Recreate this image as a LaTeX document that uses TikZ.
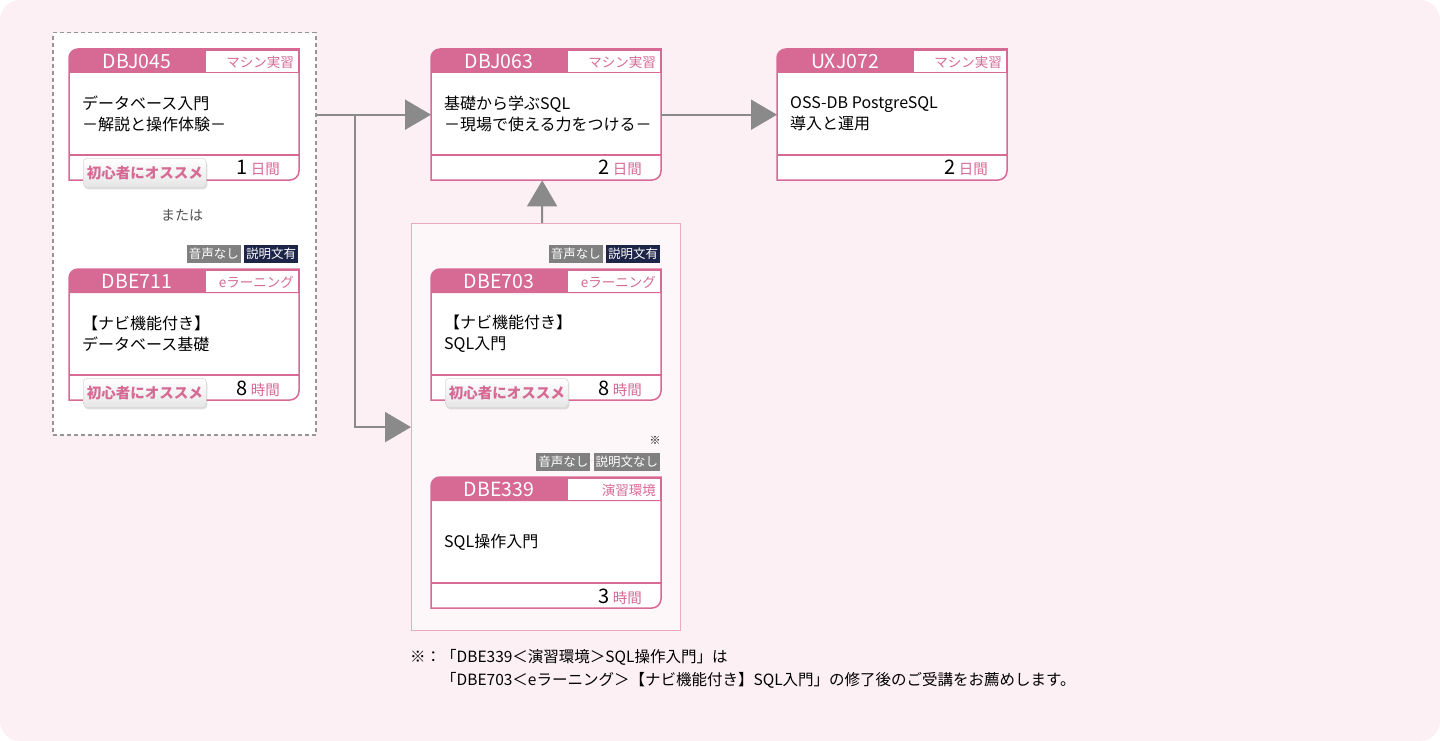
\documentclass[tikz,border=0pt]{standalone}
\usepackage{fontspec}
\setmainfont{Noto Sans CJK JP}
\usepackage{xcolor}
\definecolor{cardpink}{RGB}{214,106,148}
\definecolor{bgpink}{RGB}{252,240,244}
\definecolor{groupfill}{RGB}{253,247,250}
\definecolor{grouppink}{RGB}{234,168,194}
\definecolor{arrowgray}{RGB}{138,138,138}
\definecolor{dashgray}{RGB}{150,150,150}
\definecolor{badgegray}{RGB}{128,128,128}
\definecolor{badgenavy}{RGB}{28,36,72}
\definecolor{textgray}{RGB}{80,80,80}
\usetikzlibrary{arrows.meta, positioning, calc, shadows}

\tikzset{
  cardframe/.style={anchor=north west, minimum width=230pt, minimum height=131pt, inner sep=0pt},
  cardline/.style={draw=cardpink, line width=1.5pt},
  codetext/.style={anchor=base, text=white, inner sep=0pt, font=\fontsize{19.5}{19.5}\selectfont},
  typetext/.style={anchor=base east, text=cardpink, inner sep=0pt, font=\fontsize{13.5}{13.5}\selectfont},
  titletext/.style={anchor=west, align=left, inner sep=0pt, text=black, font=\fontsize{16}{21}\selectfont},
  hourtext/.style={anchor=base east, inner sep=0pt},
  badge/.style={text=white, inner xsep=2pt, inner ysep=0pt, minimum height=18pt, font=\fontsize{12.5}{12.5}\selectfont},
  recbtn/.style={anchor=north west, rounded corners=4pt, top color=white, bottom color=black!10,
    draw=black!15, line width=0.6pt, minimum width=123pt, minimum height=29pt, inner sep=0pt,
    text=cardpink, font=\bfseries\fontsize{14.5}{14.5}\selectfont,
    drop shadow={shadow xshift=1pt, shadow yshift=-2pt, opacity=0.25}},
  choicebox/.style={anchor=north west, draw=dashgray, fill=white, line width=1.5pt, dash pattern=on 4pt off 3pt, inner sep=0pt},
  groupbox/.style={anchor=north west, draw=grouppink, fill=groupfill, line width=1.2pt, inner sep=0pt},
  flow/.style={draw=arrowgray, line width=2pt, -{Triangle[length=26pt,width=30pt]}},
}

% course card: name, x, y, code, type, title, amount, unit
\newcommand{\coursecard}[8]{%
  \begin{scope}[shift={(#2,#3)}]
    \node[cardframe] (#1) at (0,0) {};
    \fill[white] (0,131) -- (0,9) .. controls (0,4) and (4,0) .. (9,0) -- (230,0) -- (230,122)
      .. controls (230,127) and (226,131) .. (221,131) -- cycle;
    \fill[cardpink] (0,24) -- (0,9) .. controls (0,4) and (4,0) .. (9,0) -- (230,0) -- (230,24) -- cycle;
    \fill[white] (137,2) rectangle (228.5,23);
    \draw[cardline] (0,106) -- (230,106);
    \draw[cardline] (0,131) -- (0,9) .. controls (0,4) and (4,0) .. (9,0) -- (230,0) -- (230,122)
      .. controls (230,127) and (226,131) .. (221,131) -- cycle;
    \node[codetext] at (68,19.5) {#4};
    \node[typetext] at (225,18.5) {#5};
    \node[titletext] at (13,65) {#6};
    \node[hourtext] at (211,126) {{\fontsize{20}{20}\selectfont #7}\hspace{3pt}{\color{cardpink}\fontsize{14.5}{14.5}\selectfont #8}};
  \end{scope}}

% audio / caption badge above a card
\newcommand{\audiobadge}[5]{%
  \node[badge, fill=#5, anchor=south east] (#1r) at ([shift={(-1,-6)}]#2.north east) {#4};
  \node[badge, fill=badgegray, anchor=east] (#1l) at ([xshift=-3pt]#1r.west) {#3};
  \node[inner sep=0pt, text=white!80!gray, font=\fontsize{7}{7}\selectfont] at ([xshift=-1.5pt]#1r.west) {+};}

% beginner button on a card
\newcommand{\beginnerbtn}[2]{%
  \node[recbtn] (#1) at ([shift={(14,109)}]#2.north west) {初心者にオススメ};}

\begin{document}
\begin{tikzpicture}[x=1pt, y=-1pt]
  \useasboundingbox (0,0) rectangle (1440,741);
  \fill[bgpink, rounded corners=20pt] (0,0) rectangle (1440,741);

  % groups
  \node[choicebox, minimum width=263pt, minimum height=402pt] (choice) at (52,32) {};
  \node[groupbox, minimum width=269pt, minimum height=407pt] (group) at (411,223) {};

  % cards
  \coursecard{dbj045}{69}{49}{DBJ045}{マシン実習}{データベース入門\\－解説と操作体験－}{1}{日間}
  \coursecard{dbe711}{69}{269}{DBE711}{eラーニング}{【ナビ機能付き】\\データベース基礎}{8}{時間}
  \coursecard{dbj063}{431}{49}{DBJ063}{マシン実習}{基礎から学ぶSQL\\－現場で使える力をつける－}{2}{日間}
  \coursecard{dbe703}{431}{269}{DBE703}{eラーニング}{【ナビ機能付き】\\SQL入門}{8}{時間}
  \coursecard{dbe339}{431}{477}{DBE339}{演習環境}{SQL操作入門}{3}{時間}
  \coursecard{uxj072}{777}{49}{UXJ072}{マシン実習}{OSS-DB PostgreSQL\\導入と運用}{2}{日間}

  \beginnerbtn{btna}{dbj045}
  \beginnerbtn{btnb}{dbe711}
  \beginnerbtn{btnc}{dbe703}

  \audiobadge{bdga}{dbe711}{音声なし}{説明文有}{badgenavy}
  \audiobadge{bdgb}{dbe703}{音声なし}{説明文有}{badgenavy}
  \audiobadge{bdgc}{dbe339}{音声なし}{説明文なし}{badgegray}

  \node[text=textgray, font=\fontsize{14}{14}\selectfont] (or) at (182,215) {または};
  \node[font=\fontsize{11}{11}\selectfont] (mark) at (655,440) {※};

  % arrows
  \coordinate (fork) at ([xshift=38pt]choice.east |- dbj063.west);
  \draw[flow] (choice.east |- dbj063.west) -- (dbj063.west);
  \draw[flow] (fork) |- (group.west);
  \draw[flow] ([xshift=-4pt]group.north) -- ([xshift=-4pt]dbj063.south);
  \draw[flow] (dbj063.east) -- (uxj072.west);

  % note
  \node[anchor=west, align=left, inner sep=0pt, font=\fontsize{15.5}{23}\selectfont] (note) at (410,668.5)
    {※：「DBE339＜演習環境＞SQL操作入門」は\\\phantom{※：}「DBE703＜eラーニング＞【ナビ機能付き】SQL入門」の修了後のご受講をお薦めします。};
\end{tikzpicture}
\end{document}
